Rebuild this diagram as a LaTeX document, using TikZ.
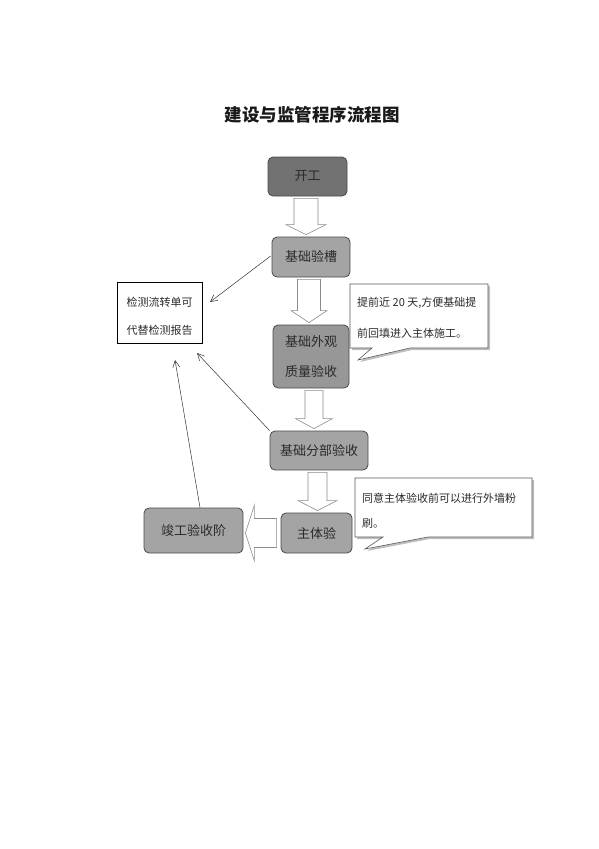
\documentclass[tikz,border=0pt]{standalone}
\usepackage{fontspec}
\newfontfamily\cjk{Noto Sans CJK SC}
\usetikzlibrary{arrows.meta,calc}
\definecolor{darkbox}{HTML}{727272}
\definecolor{midbox}{HTML}{A4A4A4}
\definecolor{midbox2}{HTML}{979797}
\definecolor{boxline}{HTML}{4A4A4A}
\definecolor{txt}{HTML}{2A2A2A}
\tikzset{
  stagebox/.style={draw=boxline, line width=0.8pt, rounded corners=5pt, fill=midbox,
    font=\cjk\fontsize{13}{15}\selectfont, text=txt, inner sep=0pt, align=center},
  notebox/.style={draw=black, line width=0.5pt, fill=white, inner sep=0pt},
  notetext/.style={font=\cjk\fontsize{11}{13}\selectfont, text=txt, inner sep=0pt, anchor=west},
  barrow/.style={draw=black!45, line width=0.6pt, fill=white},
  thinarrow/.style={draw=black!80, line width=0.5pt, -{Straight Barb[length=7pt,width=7pt]}},
  callout/.style={draw=black!65, line width=0.6pt, fill=white},
  calloutshadow/.style={fill=black!25, draw=none},
}
% down block arrow: #1 from node, #2 to node, #3 x, #4 shaft half width, #5 head half width, #6 head length
\newcommand\downblock[6]{%
  \draw[barrow] let \p1=(#1.south), \p2=(#2.north) in
    ({(#3-#4)*1pt},{\y1-2pt}) -- ({(#3+#4)*1pt},{\y1-2pt}) -- ({(#3+#4)*1pt},{\y2+#6pt+2pt})
    -- ({(#3+#5)*1pt},{\y2+#6pt+2pt}) -- ({#3*1pt},{\y2+2pt}) -- ({(#3-#5)*1pt},{\y2+#6pt+2pt})
    -- ({(#3-#4)*1pt},{\y2+#6pt+2pt}) -- cycle;}
\begin{document}
\begin{tikzpicture}[x=1pt,y=-1pt]
\useasboundingbox (0,0) rectangle (599,849);

% title
\node[font=\cjk\bfseries\fontsize{17.5}{20}\selectfont, text=black!90] (title) at (312,115) {建设与监管程序流程图};

% stage boxes
\node[stagebox, fill=darkbox, minimum width=79pt, minimum height=39pt] (kg) at (307.5,176.5) {开工};
\node[stagebox, minimum width=78pt, minimum height=40pt] (jy) at (311,257) {基础验槽};
\node[stagebox, fill=midbox2, minimum width=76pt, minimum height=63pt, font=\cjk\fontsize{13}{30}\selectfont] (jw) at (311,356.5) {基础外观\\质量验收};
\node[stagebox, minimum width=98pt, minimum height=39pt] (jf) at (319,450.5) {基础分部验收};
\node[stagebox, minimum width=71pt, minimum height=40pt] (zt) at (316.5,533) {主体验};
\node[stagebox, minimum width=99pt, minimum height=45pt] (jg) at (193.5,530.5) {竣工验收阶};

% note box
\node[notebox, minimum width=85pt, minimum height=61pt] (jc) at (159.5,312.5) {};
\node[notetext, anchor=center] (jc1) at (159.5,302) {检测流转单可};
\node[notetext, anchor=center] (jc2) at (159.5,330) {代替检测报告};

% block arrows (down)
\downblock{kg}{jy}{306}{12}{20}{10}
\downblock{jy}{jw}{309}{11.5}{18}{12}
\downblock{jw}{jf}{314}{9}{18.5}{10}
\downblock{jf}{zt}{317.5}{9.5}{19.5}{10}

% block arrow (left) from zt to jg
\draw[barrow] let \p1=(zt.west), \p2=(jg.east) in
  ({\x1-4pt},{\y1-14.5pt}) -- ({\x1-4pt},{\y1+14.5pt}) -- ({\x2+11pt},{\y1+14.5pt})
  -- ({\x2+11pt},{\y1+28pt}) -- ({\x2+2pt},{\y1}) -- ({\x2+11pt},{\y1-28pt})
  -- ({\x2+11pt},{\y1-14.5pt}) -- cycle;

% thin arrows to the note box
\coordinate (t1) at (210,302);
\coordinate (t2) at (197,353);
\coordinate (t3) at (175,360);
\draw[thinarrow] ($(jy.west)+(-1,-1)$) -- (t1);
\draw[thinarrow] (jf.north west) -- (t2);
\draw[thinarrow] ($(jg.north)+(6.5,0)$) -- (t3);

% callout 1
\fill[calloutshadow, shift={(2,2)}] (350,284) -- (488,284) -- (488,348) -- (410,348) -- (358,360) -- (372,348) -- (350,348) -- cycle;
\draw[callout] (350,284) -- (488,284) -- (488,348) -- (410,348) -- (358,360) -- (372,348) -- (350,348) -- cycle;
\node[notetext] (c1a) at (357,303) {提前近 20 天,方便基础提};
\node[notetext] (c1b) at (357,333) {前回填进入主体施工。};

% callout 2
\fill[calloutshadow, shift={(2,2)}] (355,478) -- (532,478) -- (532,537) -- (428,537) -- (365,549) -- (383,537) -- (355,537) -- cycle;
\draw[callout] (355,478) -- (532,478) -- (532,537) -- (428,537) -- (365,549) -- (383,537) -- (355,537) -- cycle;
\node[notetext] (c2a) at (362,498) {同意主体验收前可以进行外墙粉};
\node[notetext] (c2b) at (362,523) {刷。};
\end{tikzpicture}
\end{document}
